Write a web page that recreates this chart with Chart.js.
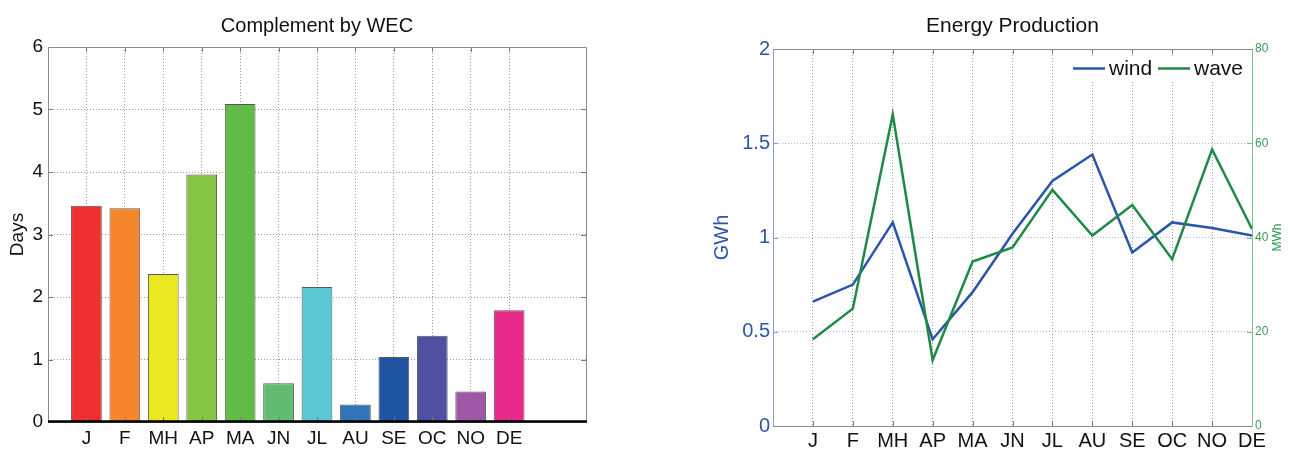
<!DOCTYPE html>
<html>
<head>
<meta charset="utf-8">
<script src="https://cdn.jsdelivr.net/npm/chart.js@4.4.1/dist/chart.umd.min.js"></script>
<style>
    body { margin: 0; background: #fff; }
    canvas { position: absolute; top: 0; }
    #complement { left: 0; }
    #energy { left: 645px; }
</style>
</head>
<body>
<canvas id="complement" width="640" height="449"></canvas>
<canvas id="energy" width="646" height="449"></canvas>
<script>
const months = ['J', 'F', 'MH', 'AP', 'MA', 'JN', 'JL', 'AU', 'SE', 'OC', 'NO', 'DE'];
const days = [3.46, 3.42, 2.37, 3.96, 5.09, 0.62, 2.16, 0.28, 1.04, 1.38, 0.49, 1.79];
const windGWh = [0.66, 0.75, 1.08, 0.46, 0.71, 1.02, 1.30, 1.44, 0.92, 1.08, 1.05, 1.01];
const waveMWh = [18.4, 24.9, 66.1, 14.0, 34.9, 37.9, 50.1, 40.4, 46.9, 35.4, 58.7, 41.8];
const dayTicks = [0, 1, 2, 3, 4, 5, 6];
const gwhTicks = [0, 0.5, 1, 1.5, 2];
const mwhTicks = [0, 20, 40, 60, 80];

const barColors = ['#ee2e2f', '#f5862c', '#ebe822', '#86c443', '#63bb47', '#62bd72',
    '#5bc8d4', '#2f73b8', '#1f54a3', '#4f50a2', '#9e58a5', '#ea2a8b'];

const FONT = "'Liberation Sans', Arial, Helvetica, sans-serif";
const WIND = '#2b55a8';
const WAVE = '#1f8a47';

// x ticks only at the months (1..12)
function monthTicks(scale) {
    scale.ticks = months.map((m, i) => ({ value: i + 1 }));
}

// box round the plot + inward tick marks, matlab style
function drawBox(chart, opts) {
    const { ctx, chartArea: a } = chart;
    ctx.save();
    ctx.lineWidth = 1;
    const xs = chart.scales.x.ticks.map(t => Math.round(chart.scales.x.getPixelForValue(t.value)) + 0.5);
    ctx.strokeStyle = opts.tickColor;
    ctx.beginPath();
    xs.forEach(x => {
        ctx.moveTo(x, a.top); ctx.lineTo(x, a.top + 5);
        ctx.moveTo(x, a.bottom); ctx.lineTo(x, a.bottom - 5);
    });
    ctx.stroke();
    const yl = chart.scales[opts.leftId];
    ctx.strokeStyle = opts.leftTick;
    ctx.beginPath();
    yl.ticks.forEach(t => {
        const y = Math.round(yl.getPixelForValue(t.value)) + 0.5;
        ctx.moveTo(a.left, y); ctx.lineTo(a.left + 5, y);
        if (!opts.rightId) { ctx.moveTo(a.right, y); ctx.lineTo(a.right - 5, y); }
    });
    ctx.stroke();
    if (opts.rightId) {
        const yr = chart.scales[opts.rightId];
        ctx.strokeStyle = opts.rightColor;
        ctx.beginPath();
        yr.ticks.forEach(t => {
            const y = Math.round(yr.getPixelForValue(t.value)) + 0.5;
            ctx.moveTo(a.right, y); ctx.lineTo(a.right - 5, y);
        });
        ctx.stroke();
    }
    const L = Math.round(a.left) + 0.5, R = Math.round(a.right) + 0.5;
    const T = Math.round(a.top) + 0.5, B = Math.round(a.bottom) + 0.5;
    ctx.strokeStyle = opts.boxColor;
    ctx.beginPath();
    ctx.moveTo(L, T); ctx.lineTo(R, T);
    ctx.moveTo(L, B); ctx.lineTo(R, B);
    ctx.stroke();
    ctx.strokeStyle = opts.leftColor;
    ctx.beginPath(); ctx.moveTo(L, T); ctx.lineTo(L, B); ctx.stroke();
    ctx.strokeStyle = opts.rightColor;
    ctx.beginPath(); ctx.moveTo(R, T); ctx.lineTo(R, B); ctx.stroke();
    ctx.restore();
}

function drawTitle(chart, text, size) {
    const { ctx, chartArea: a } = chart;
    ctx.save();
    ctx.font = size + 'px ' + FONT;
    ctx.fillStyle = '#111';
    ctx.textAlign = 'center';
    ctx.textBaseline = 'alphabetic';
    ctx.fillText(text, (a.left + a.right) / 2, 32);
    ctx.restore();
}

const complementDecor = {
    id: 'complementDecor',
    afterDatasetsDraw(chart) {
        drawBox(chart, {
            tickColor: '#7a7a7a', boxColor: '#8c8c8c', leftColor: '#8c8c8c',
            rightColor: '#8c8c8c', leftTick: '#7a7a7a', leftId: 'y'
        });
        const { ctx, chartArea: a } = chart;
        const y0 = chart.scales.y.getPixelForValue(0);
        ctx.save();
        ctx.strokeStyle = '#000';
        ctx.lineWidth = 2.5;
        ctx.beginPath();
        ctx.moveTo(a.left, y0 - 0.5);
        ctx.lineTo(a.right + 1, y0 - 0.5);
        ctx.stroke();
        ctx.restore();
        drawTitle(chart, 'Complement by WEC', 20);
    }
};

new Chart(document.getElementById('complement'), {
    type: 'bar',
    data: {
        datasets: [{
            data: days.map((d, i) => ({ x: i + 1, y: d })),
            backgroundColor: barColors,
            borderColor: 'rgba(60,60,60,0.85)',
            borderWidth: 1,
            barPercentage: 0.8,
            categoryPercentage: 1
        }]
    },
    options: {
        responsive: false,
        animation: false,
        layout: { padding: { left: 0, top: 47, right: 54, bottom: 0 } },
        plugins: { legend: { display: false }, tooltip: { enabled: false } },
        scales: {
            x: {
                type: 'linear',
                min: 0,
                max: 14,
                offset: false,
                afterBuildTicks: monthTicks,
                afterFit: s => { s.height = 27; },
                grid: { offset: false, color: '#9a9a9a', drawTicks: false },
                border: { display: false, dash: [1, 2] },
                ticks: {
                    autoSkip: false, maxRotation: 0, padding: 5, color: '#111',
                    font: { family: FONT, size: 19 },
                    callback: v => months[v - 1]
                }
            },
            y: {
                min: 0,
                max: 6,
                afterBuildTicks: s => { s.ticks = dayTicks.map(v => ({ value: v })); },
                afterFit: s => { s.width = 48; },
                grid: { color: '#9a9a9a', drawTicks: false },
                border: { display: false, dash: [1, 2] },
                title: {
                    display: true, text: 'Days', color: '#111',
                    font: { family: FONT, size: 19 }, padding: { top: 6, bottom: 0 }
                },
                ticks: { padding: 5, color: '#111', font: { family: FONT, size: 19 } }
            }
        }
    },
    plugins: [complementDecor]
});

const energyDecor = {
    id: 'energyDecor',
    afterDatasetsDraw(chart) {
        drawBox(chart, {
            tickColor: '#7a7a7a', boxColor: '#8c8c8c', leftColor: '#8a9bcc',
            rightColor: '#7dbf8c', leftTick: '#8a9bcc', leftId: 'y', rightId: 'y1'
        });
        const { ctx, chartArea: a } = chart;
        ctx.save();
        // legend
        ctx.fillStyle = '#fff';
        ctx.fillRect(a.right - 186, a.top + 7, 183, 26);
        ctx.font = '21px ' + FONT;
        ctx.textBaseline = 'middle';
        ctx.lineWidth = 2.5;
        const ly = a.top + 19.5;
        const items = [['wind', WIND, a.right - 179], ['wave', WAVE, a.right - 94]];
        items.forEach(([label, color, x]) => {
            ctx.strokeStyle = color;
            ctx.beginPath(); ctx.moveTo(x, ly); ctx.lineTo(x + 32, ly); ctx.stroke();
            ctx.fillStyle = '#111';
            ctx.fillText(label, x + 36, ly + 1);
        });
        // right axis label
        ctx.translate(a.right + 26, (a.top + a.bottom) / 2);
        ctx.rotate(-Math.PI / 2);
        ctx.font = '12px ' + FONT;
        ctx.fillStyle = '#2e9a50';
        ctx.textAlign = 'center';
        ctx.fillText('MWh', 0, 0);
        ctx.restore();
        drawTitle(chart, 'Energy Production', 21);
    }
};

new Chart(document.getElementById('energy'), {
    type: 'line',
    data: {
        datasets: [
            {
                label: 'wind',
                data: windGWh.map((v, i) => ({ x: i + 1, y: v })),
                borderColor: WIND,
                borderWidth: 2.5,
                pointRadius: 0,
                tension: 0,
                yAxisID: 'y',
                order: 2
            },
            {
                label: 'wave',
                data: waveMWh.map((v, i) => ({ x: i + 1, y: v })),
                borderColor: WAVE,
                borderWidth: 2.5,
                pointRadius: 0,
                tension: 0,
                yAxisID: 'y1',
                order: 1
            }
        ]
    },
    options: {
        responsive: false,
        animation: false,
        layout: { padding: { left: 60, top: 49, right: 0, bottom: 0 } },
        plugins: { legend: { display: false }, tooltip: { enabled: false } },
        scales: {
            x: {
                type: 'linear',
                min: 0,
                max: 12,
                afterBuildTicks: monthTicks,
                afterFit: s => { s.height = 23; },
                grid: {
                    drawTicks: false,
                    color: c => (c.tick && c.tick.value === 12 ? 'rgba(0,0,0,0)' : '#9a9a9a')
                },
                border: { display: false, dash: [1, 2] },
                ticks: {
                    autoSkip: false, maxRotation: 0, padding: 3, color: '#111',
                    font: { family: FONT, size: 20 },
                    callback: v => months[v - 1]
                }
            },
            y: {
                position: 'left',
                min: 0,
                max: 2,
                afterBuildTicks: s => { s.ticks = gwhTicks.map(v => ({ value: v })); },
                afterFit: s => { s.width = 68; },
                grid: {
                    drawTicks: false,
                    color: c => (c.tick && (c.tick.value === 0 || c.tick.value === 2) ? 'rgba(0,0,0,0)' : '#a9bde6')
                },
                border: { display: false, dash: [1, 2] },
                title: {
                    display: true, text: 'GWh', color: WIND,
                    font: { family: FONT, size: 20 }, padding: { top: 5, bottom: 0 }
                },
                ticks: {
                    padding: 3, color: WIND, font: { family: FONT, size: 20 },
                    callback: v => String(v)
                }
            },
            y1: {
                position: 'right',
                min: 0,
                max: 80,
                afterBuildTicks: s => { s.ticks = mwhTicks.map(v => ({ value: v })); },
                afterFit: s => { s.width = 39; },
                grid: { display: false, drawTicks: false },
                border: { display: false },
                ticks: {
                    padding: 3, color: '#3a9a55', font: { family: FONT, size: 12 },
                    callback: v => String(v)
                }
            }
        }
    },
    plugins: [energyDecor]
});
</script>
</body>
</html>
